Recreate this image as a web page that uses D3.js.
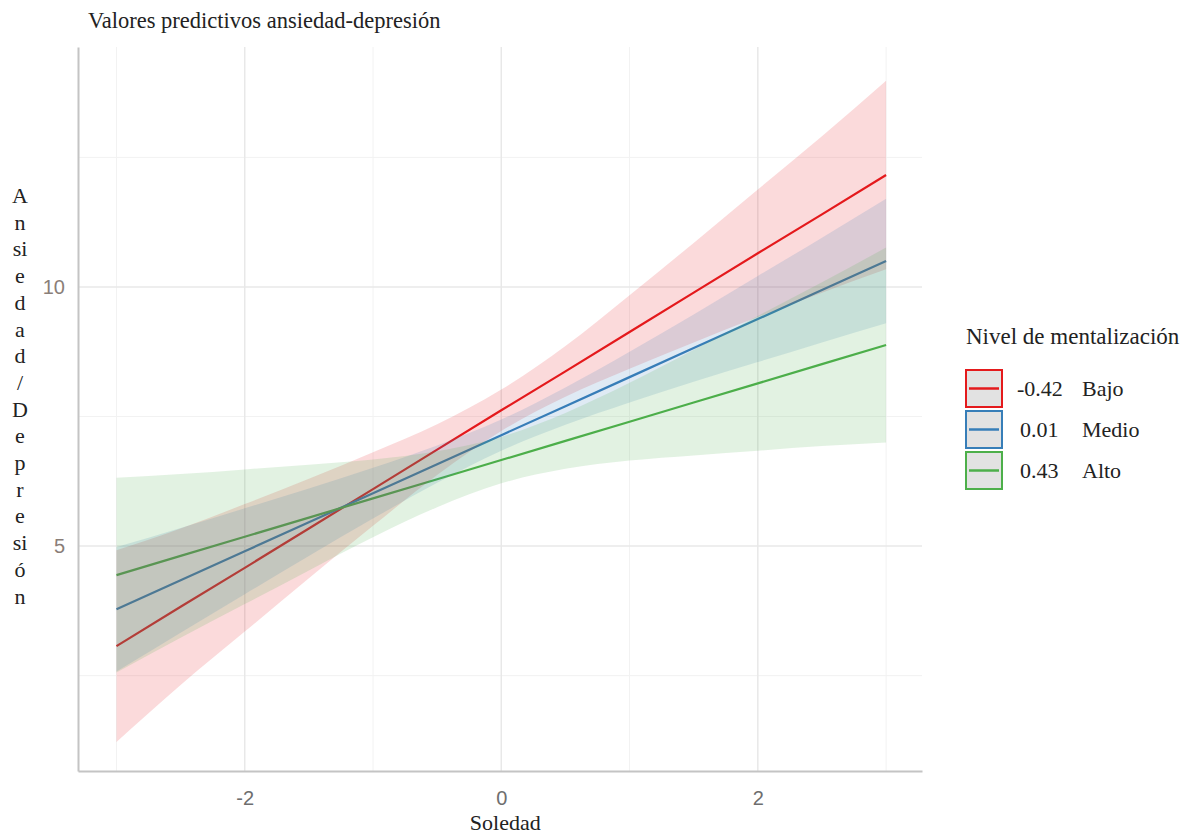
<!DOCTYPE html>
<html>
<head>
<meta charset="utf-8">
<script src="https://cdn.jsdelivr.net/npm/d3@7"></script>
<style>
  body { margin: 0; background: #fff; }
  .tick text { font-family: "Liberation Sans", Arial, sans-serif; }
</style>
</head>
<body>
<script>
// soledad values where predictions were read
var soledad = [-3, -2.5, -2, -1.5, -1, -0.5, 0, 0.5, 1, 1.5, 2, 2.5, 3];

var bajoFit   = [3.07, 3.83, 4.58, 5.34, 6.10, 6.86, 7.62, 8.37, 9.13, 9.89, 10.65, 11.40, 12.16];
var bajoLow   = [1.22, 2.32, 3.35, 4.38, 5.39, 6.37, 7.22, 7.88, 8.42, 8.93, 9.42, 9.89, 10.34];
var bajoHigh  = [4.92, 5.34, 5.81, 6.30, 6.81, 7.35, 8.02, 8.86, 9.84, 10.85, 11.88, 12.91, 13.98];

var medioFit  = [3.78, 4.34, 4.90, 5.46, 6.02, 6.58, 7.14, 7.70, 8.26, 8.82, 9.38, 9.94, 10.50];
var medioLow  = [2.58, 3.33, 4.07, 4.81, 5.53, 6.22, 6.84, 7.34, 7.77, 8.17, 8.55, 8.93, 9.30];
var medioHigh = [4.98, 5.35, 5.73, 6.11, 6.51, 6.94, 7.44, 8.06, 8.75, 9.47, 10.21, 10.95, 11.70];

var altoFit   = [4.44, 4.81, 5.18, 5.55, 5.92, 6.29, 6.66, 7.03, 7.40, 7.77, 8.14, 8.51, 8.88];
var altoLow   = [2.56, 3.23, 3.88, 4.53, 5.17, 5.75, 6.21, 6.49, 6.65, 6.75, 6.84, 6.93, 7.00];
var altoHigh  = [6.32, 6.39, 6.48, 6.57, 6.67, 6.83, 7.11, 7.57, 8.15, 8.79, 9.44, 10.09, 10.76];

var groupValues = ["-0.42", "0.01", "0.43"];
var groupNames  = ["Bajo", "Medio", "Alto"];
var colors      = ["#e41a1c", "#377eb8", "#4daf4a"];

var xTicks      = [-2, 0, 2];
var xMinorTicks = [-3, -1, 1, 3];
var yTicks      = [5, 10];
var yMinorTicks = [2.5, 7.5, 12.5];

var yLabelChars = ["A", "n", "si", "e", "d", "a", "d", "/", "D", "e", "p", "r", "e", "si", "ó", "n"];

var series = [
    {fit: bajoFit, low: bajoLow, high: bajoHigh},
    {fit: medioFit, low: medioLow, high: medioHigh},
    {fit: altoFit, low: altoLow, high: altoHigh}
];

var margin = {top: 47, right: 264, bottom: 65, left: 78};
var width = 1186 - margin.left - margin.right;
var height = 836 - margin.top - margin.bottom;

var xScale = d3.scaleLinear().domain([-3.3, 3.28]).range([0, width]);
var yScale = d3.scaleLinear().domain([0.66, 14.63]).range([height, 0]);

var serif = "'Liberation Serif', 'Times New Roman', serif";

var root = d3.select("body").append("svg")
    .attr("width", 1186)
    .attr("height", 836);

var svg = root.append("g")
    .attr("transform", "translate(" + margin.left + "," + margin.top + ")");

// grid
svg.append("g").selectAll("line")
    .data(yMinorTicks)
    .enter().append("line")
    .attr("x1", 0).attr("x2", width)
    .attr("y1", function(d) { return yScale(d); })
    .attr("y2", function(d) { return yScale(d); })
    .attr("stroke", "#f2f2f2").attr("stroke-width", 1);

svg.append("g").selectAll("line")
    .data(xMinorTicks)
    .enter().append("line")
    .attr("y1", 0).attr("y2", height)
    .attr("x1", function(d) { return xScale(d); })
    .attr("x2", function(d) { return xScale(d); })
    .attr("stroke", "#f2f2f2").attr("stroke-width", 1);

svg.append("g").selectAll("line")
    .data(yTicks)
    .enter().append("line")
    .attr("x1", 0).attr("x2", width)
    .attr("y1", function(d) { return yScale(d); })
    .attr("y2", function(d) { return yScale(d); })
    .attr("stroke", "#e8e8e8").attr("stroke-width", 1.5);

svg.append("g").selectAll("line")
    .data(xTicks)
    .enter().append("line")
    .attr("y1", 0).attr("y2", height)
    .attr("x1", function(d) { return xScale(d); })
    .attr("x2", function(d) { return xScale(d); })
    .attr("stroke", "#e8e8e8").attr("stroke-width", 1.5);

// fitted lines (ribbons go on top, as in the original)
var line = d3.line()
    .x(function(d, i) { return xScale(soledad[i]); })
    .y(function(d) { return yScale(d); });

svg.append("g").selectAll("path")
    .data(series)
    .enter().append("path")
    .attr("d", function(d) { return line(d.fit); })
    .attr("fill", "none")
    .attr("stroke", function(d, i) { return colors[i]; })
    .attr("stroke-width", 2.2);

var area = d3.area()
    .curve(d3.curveMonotoneX)
    .x(function(d, i) { return xScale(soledad[i]); })
    .y0(function(d) { return yScale(d[0]); })
    .y1(function(d) { return yScale(d[1]); });

svg.append("g").selectAll("path")
    .data(series)
    .enter().append("path")
    .attr("d", function(d) { return area(d.low.map(function(v, i) { return [v, d.high[i]]; })); })
    .attr("fill", function(d, i) { return colors[i]; })
    .attr("fill-opacity", 0.16);

// axes
var xAxis = d3.axisBottom(xScale).tickValues(xTicks).tickSize(0).tickPadding(20).tickFormat(d3.format("d"));
var yAxis = d3.axisLeft(yScale).tickValues(yTicks).tickSize(0).tickPadding(13);

var gx = svg.append("g")
    .attr("transform", "translate(0," + height + ")")
    .call(xAxis);
gx.select(".domain").attr("stroke", "#c4c4c4").attr("stroke-width", 2);
gx.selectAll("text").attr("fill", "#6e6e6e").attr("font-size", 20).text(function(d) { return d < 0 ? "-" + Math.abs(d) : d; });

var gy = svg.append("g").call(yAxis);
gy.select(".domain").attr("stroke", "#c4c4c4").attr("stroke-width", 2);
gy.selectAll("text").attr("fill", "#8a7e78").attr("font-size", 20);

// titles
root.append("text")
    .attr("x", 88).attr("y", 28)
    .attr("font-family", serif).attr("font-size", 22.5).attr("fill", "#222")
    .text("Valores predictivos ansiedad-depresión");

root.append("text")
    .attr("x", margin.left + xScale(0) + 4).attr("y", 830)
    .attr("text-anchor", "middle")
    .attr("font-family", serif).attr("font-size", 22).attr("fill", "#222")
    .text("Soledad");

root.append("g").selectAll("text")
    .data(yLabelChars)
    .enter().append("text")
    .attr("x", 20)
    .attr("y", function(d, i) { return 203 + i * 26.7; })
    .attr("text-anchor", "middle")
    .attr("font-family", serif).attr("font-size", 22).attr("fill", "#222")
    .text(function(d) { return d; });

// legend
var legend = root.append("g").attr("transform", "translate(966,336)");

legend.append("text")
    .attr("x", 0).attr("y", 8)
    .attr("font-family", serif).attr("font-size", 23).attr("fill", "#222")
    .text("Nivel de mentalización");

var key = legend.selectAll(".key")
    .data(groupNames)
    .enter().append("g")
    .attr("class", "key")
    .attr("transform", function(d, i) { return "translate(0," + (34 + i * 41) + ")"; });

key.append("rect")
    .attr("x", 0).attr("y", 0).attr("width", 36).attr("height", 37)
    .attr("fill", "#e2e2e2")
    .attr("stroke", function(d, i) { return colors[i]; })
    .attr("stroke-width", 2);

key.append("line")
    .attr("x1", 3).attr("x2", 33).attr("y1", 18.5).attr("y2", 18.5)
    .attr("stroke", function(d, i) { return colors[i]; })
    .attr("stroke-width", 2.5);

key.append("text")
    .attr("x", function(d, i) { return i == 0 ? 51 : 54; }).attr("y", 26)
    .attr("font-family", serif).attr("font-size", 22).attr("fill", "#222")
    .text(function(d, i) { return groupValues[i]; });

key.append("text")
    .attr("x", 116).attr("y", 26)
    .attr("font-family", serif).attr("font-size", 22).attr("fill", "#222")
    .text(function(d) { return d; });
</script>
</body>
</html>
